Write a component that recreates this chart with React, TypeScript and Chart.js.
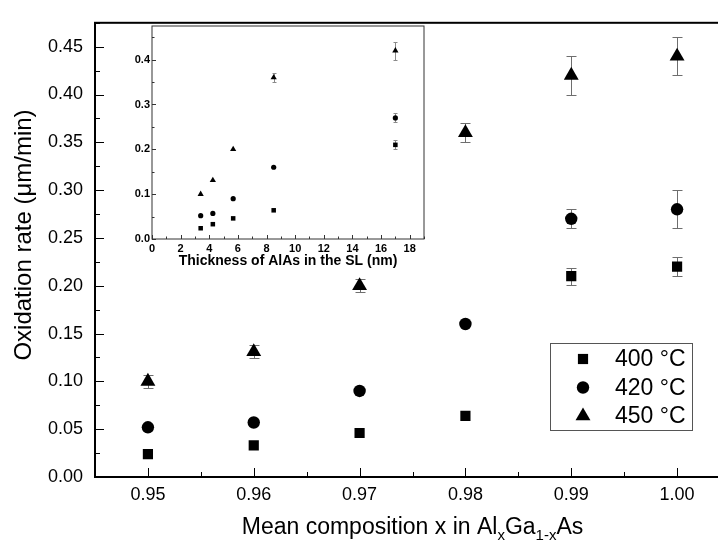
import React, { useEffect, useRef } from "react";
import { Chart, registerables } from "chart.js";

Chart.register(...registerables);

// ---------- data ----------
const compositions = [0.95, 0.96, 0.97, 0.98, 0.99, 1.0];
const rate400 = [0.024, 0.033, 0.046, 0.064, 0.21, 0.22];
const rate420 = [0.052, 0.057, 0.09, 0.16, 0.27, 0.28];
const rate450 = [0.1, 0.131, 0.2, 0.36, 0.42, 0.44];
const err400 = [0, 0, 0, 0, 0.009, 0.01];
const err420 = [0, 0, 0, 0, 0.01, 0.02];
const err450 = [0.007, 0.007, 0.007, 0.01, 0.02, 0.02];
const seriesLabels = ["400 °C", "420 °C", "450 °C"];
const mainXTicks = [0.95, 0.96, 0.97, 0.98, 0.99, 1.0];
const mainYTicks = [0, 0.05, 0.1, 0.15, 0.2, 0.25, 0.3, 0.35, 0.4, 0.45];

const thicknessNm = [3.4, 4.25, 5.67, 8.5, 17];
const inset400 = [0.024, 0.033, 0.046, 0.064, 0.21];
const inset420 = [0.052, 0.057, 0.09, 0.16, 0.27];
const inset450 = [0.1, 0.131, 0.2, 0.36, 0.42];
const insetErr400 = [0, 0, 0, 0, 0.01];
const insetErr420 = [0, 0, 0, 0, 0.01];
const insetErr450 = [0, 0, 0, 0.01, 0.02];
const insetXTicks = [0, 2, 4, 6, 8, 10, 12, 14, 16, 18];
const insetYTicks = [0, 0.1, 0.2, 0.3, 0.4];

const FONT = "'Liberation Sans', Arial, sans-serif";

function pts(xs: number[], ys: number[]) {
  return ys.map((y, i) => ({ x: xs[i], y }));
}

function drawMarker(ctx: CanvasRenderingContext2D, style: string, x: number, y: number, r: number) {
  ctx.beginPath();
  if (style === "circle") {
    ctx.arc(x, y, r, 0, Math.PI * 2);
  } else if (style === "rect") {
    const s = r * Math.SQRT1_2;
    ctx.rect(x - s, y - s, 2 * s, 2 * s);
  } else {
    ctx.moveTo(x, y - r);
    ctx.lineTo(x + r * Math.sin((2 * Math.PI) / 3), y - r * Math.cos((2 * Math.PI) / 3));
    ctx.lineTo(x + r * Math.sin((4 * Math.PI) / 3), y - r * Math.cos((4 * Math.PI) / 3));
    ctx.closePath();
  }
  ctx.fill();
}

const errorBarsPlugin = {
  id: "errorBars",
  beforeDatasetsDraw(chart: any, _args: any, opts: any) {
    const { ctx, scales } = chart;
    ctx.save();
    ctx.strokeStyle = opts.color;
    ctx.lineWidth = 1;
    chart.data.datasets.forEach((ds: any, di: number) => {
      const errs: number[] = opts.errors[di] || [];
      ds.data.forEach((p: any, i: number) => {
        const e = errs[i];
        if (!e) return;
        const x = Math.round(scales.x.getPixelForValue(p.x)) + 0.5;
        const yt = Math.round(scales.y.getPixelForValue(p.y + e)) + 0.5;
        const yb = Math.round(scales.y.getPixelForValue(p.y - e)) + 0.5;
        ctx.beginPath();
        ctx.moveTo(x, yt);
        ctx.lineTo(x, yb);
        ctx.moveTo(x - opts.cap, yt);
        ctx.lineTo(x + opts.cap, yt);
        ctx.moveTo(x - opts.cap, yb);
        ctx.lineTo(x + opts.cap, yb);
        ctx.stroke();
      });
    });
    ctx.restore();
  },
};

function minorValues(scale: any) {
  const majors: number[] = scale.ticks.map((t: any) => t.value);
  if (majors.length < 2) return [];
  const step = majors[1] - majors[0];
  const out: number[] = [];
  const start = majors[0] - step / 2;
  for (let v = start; v <= scale.max + 1e-9; v += step) {
    if (v >= scale.min - 1e-9) out.push(v);
  }
  return out;
}

const frameTicksPlugin = {
  id: "frameTicks",
  afterDatasetsDraw(chart: any, _args: any, opts: any) {
    const { ctx, chartArea: a, scales } = chart;
    ctx.save();
    ctx.strokeStyle = opts.color;
    ctx.lineWidth = 1;
    ctx.beginPath();
    scales.x.ticks.forEach((t: any) => {
      const x = Math.round(scales.x.getPixelForValue(t.value)) + 0.5;
      ctx.moveTo(x, a.bottom);
      ctx.lineTo(x, a.bottom - opts.major);
    });
    minorValues(scales.x).forEach((v) => {
      const x = Math.round(scales.x.getPixelForValue(v)) + 0.5;
      ctx.moveTo(x, a.bottom);
      ctx.lineTo(x, a.bottom - opts.minor);
    });
    scales.y.ticks.forEach((t: any) => {
      const y = Math.round(scales.y.getPixelForValue(t.value)) + 0.5;
      ctx.moveTo(a.left, y);
      ctx.lineTo(a.left + opts.major, y);
    });
    minorValues(scales.y).forEach((v) => {
      const y = Math.round(scales.y.getPixelForValue(v)) + 0.5;
      ctx.moveTo(a.left, y);
      ctx.lineTo(a.left + opts.minor, y);
    });
    ctx.stroke();
    ctx.lineWidth = opts.frameWidth;
    ctx.strokeRect(a.left, a.top, a.right - a.left, a.bottom - a.top);
    ctx.restore();
  },
};

const mainDecorPlugin = {
  id: "mainDecor",
  afterDraw(chart: any) {
    const { ctx, chartArea: a } = chart;
    ctx.save();
    ctx.fillStyle = "#000";
    // y title
    ctx.save();
    ctx.translate(24, 235);
    ctx.rotate(-Math.PI / 2);
    ctx.font = `24px ${FONT}`;
    ctx.textAlign = "center";
    ctx.textBaseline = "middle";
    ctx.fillText("Oxidation rate (\u03bcm/min)", 0, 0);
    ctx.restore();
    // x title with subscripts
    const segs = [
      { t: "Mean composition x in Al", sub: false },
      { t: "x", sub: true },
      { t: "Ga", sub: false },
      { t: "1-x", sub: true },
      { t: "As", sub: false },
    ];
    const big = `23px ${FONT}`;
    const small = `15px ${FONT}`;
    let total = 0;
    segs.forEach((s) => {
      ctx.font = s.sub ? small : big;
      total += ctx.measureText(s.t).width;
    });
    let x = (a.left + a.right) / 2 - total / 2;
    const base = 534;
    ctx.textAlign = "left";
    ctx.textBaseline = "alphabetic";
    segs.forEach((s) => {
      ctx.font = s.sub ? small : big;
      ctx.fillText(s.t, x, s.sub ? base + 6 : base);
      x += ctx.measureText(s.t).width;
    });
    // legend
    ctx.strokeStyle = "#555";
    ctx.lineWidth = 1;
    ctx.strokeRect(550.5, 343.5, 142, 87);
    const rows = [359, 387.5, 416];
    chart.data.datasets.forEach((ds: any, i: number) => {
      ctx.fillStyle = "#000";
      drawMarker(ctx, ds.pointStyle, 583, rows[i], ds.pointRadius);
      ctx.font = `23px ${FONT}`;
      ctx.textBaseline = "middle";
      ctx.fillText(ds.label, 615, rows[i] + 1);
    });
    ctx.restore();
  },
};

function mainConfig(): any {
  const ds = (label: string, data: any[], style: string, r: number) => ({
    label,
    data,
    pointStyle: style,
    pointRadius: r,
    pointHoverRadius: r,
    backgroundColor: "#000",
    borderColor: "#000",
    borderWidth: 0,
    showLine: false,
  });
  return {
    type: "scatter",
    data: {
      datasets: [
        ds(seriesLabels[0], pts(compositions, rate400), "rect", 7.2),
        ds(seriesLabels[1], pts(compositions, rate420), "circle", 6.2),
        ds(seriesLabels[2], pts(compositions, rate450), "triangle", 8.6),
      ],
    },
    options: {
      responsive: false,
      animation: false,
      devicePixelRatio: 1,
      layout: { padding: { left: 0, right: 10, top: 12, bottom: 0 } },
      plugins: {
        legend: { display: false },
        tooltip: { enabled: false },
        errorBars: { errors: [err400, err420, err450], color: "#6e6e6e", cap: 5 },
        frameTicks: { color: "#000", major: 9, minor: 5, frameWidth: 2 },
      },
      scales: {
        x: {
          type: "linear",
          min: 0.945,
          max: 1.005,
          afterBuildTicks: (s: any) => {
            s.ticks = mainXTicks.map((v) => ({ value: v }));
          },
          afterFit: (s: any) => {
            s.height = 71;
          },
          ticks: {
            callback: (v: any) => Number(v).toFixed(2),
            font: { family: FONT, size: 18 },
            color: "#000",
            padding: 7,
            maxRotation: 0,
            autoSkip: false,
          },
          grid: { display: false, drawTicks: false },
          border: { display: false },
        },
        y: {
          type: "linear",
          min: 0,
          max: 0.475,
          afterBuildTicks: (s: any) => {
            s.ticks = mainYTicks.map((v) => ({ value: v }));
          },
          afterFit: (s: any) => {
            s.width = 95;
          },
          ticks: {
            callback: (v: any) => Number(v).toFixed(2),
            font: { family: FONT, size: 18 },
            color: "#000",
            padding: 12,
            autoSkip: false,
          },
          grid: { display: false, drawTicks: false },
          border: { display: false },
        },
      },
    },
    plugins: [errorBarsPlugin, frameTicksPlugin, mainDecorPlugin],
  };
}

function insetConfig(): any {
  const ds = (label: string, data: any[], style: string, r: number) => ({
    label,
    data,
    pointStyle: style,
    pointRadius: r,
    pointHoverRadius: r,
    backgroundColor: "#000",
    borderColor: "#000",
    borderWidth: 0,
    showLine: false,
  });
  return {
    type: "scatter",
    data: {
      datasets: [
        ds(seriesLabels[0], pts(thicknessNm, inset400), "rect", 3.2),
        ds(seriesLabels[1], pts(thicknessNm, inset420), "circle", 2.6),
        ds(seriesLabels[2], pts(thicknessNm, inset450), "triangle", 3.6),
      ],
    },
    options: {
      responsive: false,
      animation: false,
      devicePixelRatio: 1,
      layout: { padding: { left: 0, right: 11, top: 11, bottom: 0 } },
      plugins: {
        legend: { display: false },
        tooltip: { enabled: false },
        errorBars: { errors: [insetErr400, insetErr420, insetErr450], color: "#8a8a8a", cap: 2 },
        frameTicks: { color: "#333", major: 4, minor: 2.5, frameWidth: 1 },
      },
      scales: {
        x: {
          type: "linear",
          min: 0,
          max: 19,
          afterBuildTicks: (s: any) => {
            s.ticks = insetXTicks.map((v) => ({ value: v }));
          },
          afterFit: (s: any) => {
            s.height = 38;
          },
          ticks: {
            callback: (v: any) => String(v),
            font: { family: FONT, size: 11, weight: "bold" },
            color: "#000",
            padding: 3,
            maxRotation: 0,
            autoSkip: false,
          },
          title: {
            display: true,
            text: "Thickness of AlAs in the SL (nm)",
            font: { family: FONT, size: 14, weight: "bold" },
            color: "#000",
            padding: { top: 0, bottom: 7 },
          },
          grid: { display: false, drawTicks: false },
          border: { display: false },
        },
        y: {
          type: "linear",
          min: 0,
          max: 0.475,
          afterBuildTicks: (s: any) => {
            s.ticks = insetYTicks.map((v) => ({ value: v }));
          },
          afterFit: (s: any) => {
            s.width = 32;
          },
          ticks: {
            callback: (v: any) => Number(v).toFixed(1),
            font: { family: FONT, size: 11, weight: "bold" },
            color: "#000",
            padding: 2,
            autoSkip: false,
          },
          grid: { display: false, drawTicks: false },
          border: { display: false },
        },
      },
    },
    plugins: [errorBarsPlugin, frameTicksPlugin],
  };
}

export default function App() {
  const mainRef = useRef<HTMLCanvasElement>(null);
  const insetRef = useRef<HTMLCanvasElement>(null);
  useEffect(() => {
    const main = new Chart(mainRef.current as HTMLCanvasElement, mainConfig());
    const inset = new Chart(insetRef.current as HTMLCanvasElement, insetConfig());
    return () => {
      main.destroy();
      inset.destroy();
    };
  }, []);
  return (
    <div
      style={{
        position: "absolute",
        left: 0,
        top: 0,
        width: 718,
        height: 548,
        overflow: "hidden",
        background: "#fff",
      }}
    >
      <canvas
        ref={mainRef}
        width={740}
        height={548}
        style={{ position: "absolute", left: 0, top: 0, width: 740, height: 548 }}
      />
      <canvas
        ref={insetRef}
        width={315}
        height={262}
        style={{ position: "absolute", left: 120, top: 15, width: 315, height: 262 }}
      />
    </div>
  );
}
